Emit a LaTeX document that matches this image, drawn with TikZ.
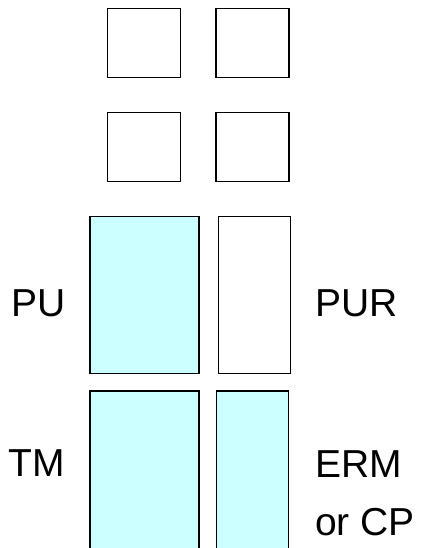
\documentclass[tikz,border=0pt]{standalone}
\usepackage{fontspec}
\setmainfont{Liberation Sans}
\definecolor{lightcy}{HTML}{CCFFFF}
\begin{document}
\begin{tikzpicture}[x=1pt,y=-1pt,
  cell/.style={draw=black,line width=1.5pt,rectangle,inner sep=0pt,outer sep=0pt},
  lbl/.style={font=\fontsize{39}{58}\selectfont,inner sep=0pt,anchor=base west,align=left}]
\useasboundingbox (0,0) rectangle (422,548);
\node[cell,minimum width=73pt,minimum height=68.6pt] (a1) at (144.2,43) {};
\node[cell,minimum width=73pt,minimum height=68.6pt] (a2) at (252.5,43) {};
\node[cell,minimum width=73pt,minimum height=69pt] (b1) at (144.2,147.2) {};
\node[cell,minimum width=73pt,minimum height=69pt] (b2) at (252.5,147.2) {};
\node[cell,fill=lightcy,minimum width=109pt,minimum height=156.6pt] (pu) at (144.5,295) {};
\node[cell,fill=white,minimum width=72.4pt,minimum height=156.6pt] (pur) at (254.5,295) {};
\node[cell,fill=lightcy,minimum width=109pt,minimum height=180pt] (tm) at (144.5,481) {};
\node[cell,fill=lightcy,minimum width=72pt,minimum height=180pt] (erm) at (252.7,481) {};
\node[lbl] (tpu) at (11,316.7) {PU};
\node[lbl] (tpur) at (315,316.7) {PUR};
\node[lbl] (ttm) at (8,476.7) {TM};
\node[lbl] (term) at (315,535) {ERM\\or CP};
\end{tikzpicture}
\end{document}
